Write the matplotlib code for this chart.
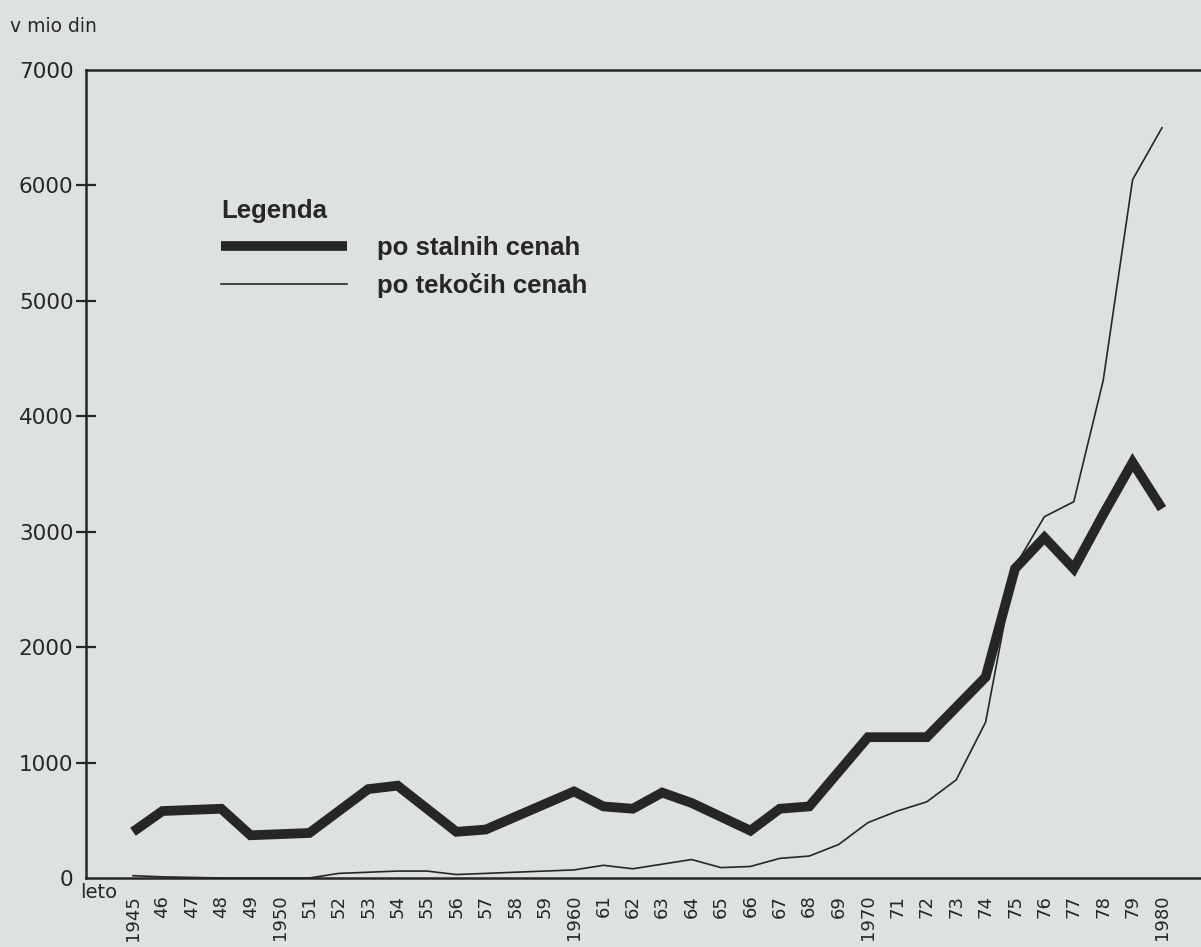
import matplotlib
matplotlib.use("Agg")
import matplotlib.pyplot as plt

years = list(range(1945, 1981))
year_labels = ["1945", "46", "47", "48", "49", "1950", "51", "52", "53", "54", "55",
               "56", "57", "58", "59", "1960", "61", "62", "63", "64", "65", "66",
               "67", "68", "69", "1970", "71", "72", "73", "74", "75", "76", "77",
               "78", "79", "1980"]
stalne = [400, 580, 590, 600, 370, 380, 390, 580, 770, 800, 600, 400, 420, 530,
          640, 750, 620, 600, 740, 650, 530, 410, 600, 620, 920, 1220, 1220, 1220,
          1480, 1740, 2680, 2950, 2680, 3150, 3600, 3200]
tekoce = [20, 10, 5, 0, 0, 0, 0, 40, 50, 60, 60, 30, 40, 50, 60, 70, 110, 80,
          120, 160, 90, 100, 170, 190, 290, 480, 580, 660, 850, 1350, 2700, 3130,
          3260, 4310, 6050, 6500]
y_ticks = [0, 1000, 2000, 3000, 4000, 5000, 6000, 7000]
legend_labels = ["po stalnih cenah", "po tekočih cenah"]

BG = "#dde2de"
INK = "#262626"
FONT = ["DejaVu Sans"]

fig = plt.figure(figsize=(12.01, 9.47), dpi=100, facecolor=BG)
W, H = 1201, 947
ax = fig.add_axes([86 / W, (H - 878) / H, (1205 - 86) / W, (878 - 70) / H])
ax.set_facecolor(BG)

ax.plot(years, stalne, color=INK, lw=7.0, solid_joinstyle="miter",
        solid_capstyle="butt", label=legend_labels[0])
ax.plot(years, tekoce, color=INK, lw=1.2, label=legend_labels[1])

x0 = 1945 - 47 / 29.4
ax.set_xlim(x0, x0 + (1205 - 86) / 29.4)
ax.set_ylim(0, 7000)

for s in ["top", "left", "bottom"]:
    ax.spines[s].set_linewidth(1.8)
    ax.spines[s].set_color(INK)
ax.spines["right"].set_visible(False)

ax.set_yticks(y_ticks)
ax.set_yticklabels([str(v) for v in y_ticks], family=FONT, fontsize=15.5, color=INK)
ax.tick_params(axis="y", direction="inout", length=14, width=1.6, pad=2, colors=INK)
yt = ax.yaxis.get_major_ticks()
yt[0].tick1line.set_visible(False)
yt[-1].tick1line.set_visible(False)

ax.set_xticks(years)
ax.set_xticklabels(year_labels, rotation=90, family=FONT, fontsize=13, color=INK)
ax.tick_params(axis="x", length=0, pad=12)

fig.text(10 / W, 1 - 32 / H, "v mio din", family=FONT, fontsize=13.5, color=INK,
         ha="left", va="baseline")
fig.text(80 / W, 1 - 898 / H, "leto", family=FONT, fontsize=14, color=INK,
         ha="left", va="baseline")

leg = ax.legend(loc="upper left", bbox_to_anchor=(221 / W, 1 - 199 / H),
                bbox_transform=fig.transFigure, frameon=False, title="Legenda",
                alignment="left", handlelength=4.9, handletextpad=1.17,
                labelspacing=0.5, borderpad=0, borderaxespad=0,
                prop={"family": "Liberation Sans", "weight": "bold", "size": 18.5},
                title_fontproperties={"family": "Liberation Sans", "weight": "bold",
                                      "size": 18.5})
for t in leg.get_texts():
    t.set_color(INK)
leg.get_title().set_color(INK)

fig.savefig("out.png", dpi=100, facecolor=BG)
